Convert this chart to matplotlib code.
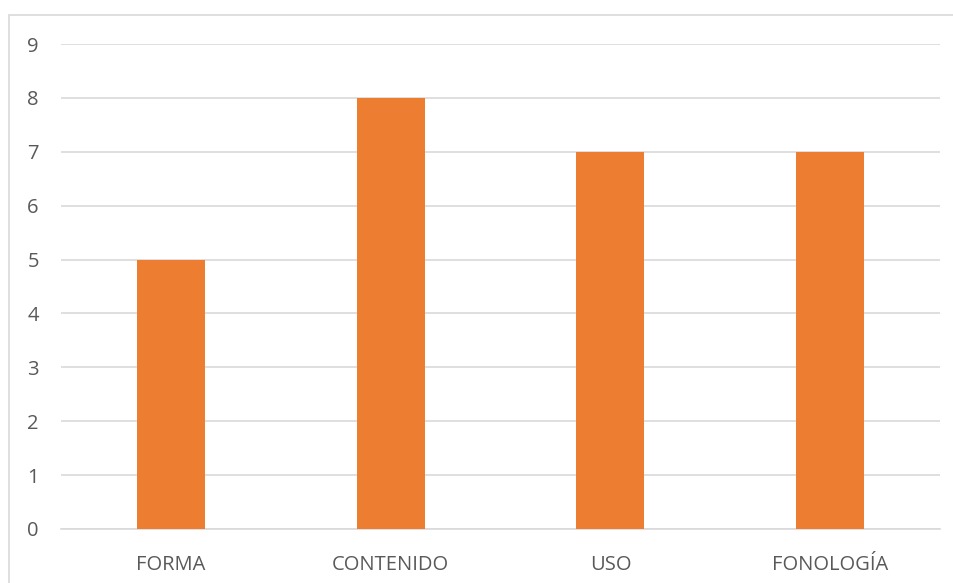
import matplotlib.pyplot as plt
from matplotlib.patches import Rectangle

categories = ['FORMA', 'CONTENIDO', 'USO', 'FONOLOGÍA']
values = [5, 8, 7, 7]
yticks = list(range(0, 10))

W, H = 954, 583
fig = plt.figure(figsize=(W / 100, H / 100), dpi=100)
plt.rcParams['font.family'] = ['Open Sans', 'DejaVu Sans']

# outer chart border (partly cropped in the original)
fig.patches.append(Rectangle((9.5 / W, -0.1), 2, (H - 15.5) / H + 0.1,
                             transform=fig.transFigure, fill=False,
                             edgecolor='#d9d9d9', linewidth=1.2))

ax = fig.add_axes([61 / W, (H - 529) / H, (940 - 61) / W, (529 - 44) / H])
x = range(len(categories))
ax.bar(x, values, width=0.31, color='#ed7d31', zorder=3)

ax.set_xlim(-0.5, len(categories) - 0.5)
ax.set_ylim(0, 9)
ax.set_yticks(yticks)
ax.set_xticks(list(x))
ax.set_xticklabels(categories)
ax.grid(axis='y', color='#d9d9d9', linewidth=1.2, zorder=0)
for s in ['top', 'right', 'left']:
    ax.spines[s].set_visible(False)
ax.spines['bottom'].set_color('#d9d9d9')
ax.spines['bottom'].set_linewidth(1.2)
ax.tick_params(axis='both', length=0, labelsize=14.5, colors='#595959')
ax.tick_params(axis='y', pad=16)
ax.tick_params(axis='x', pad=19)

fig.savefig('out.png', dpi=100)
